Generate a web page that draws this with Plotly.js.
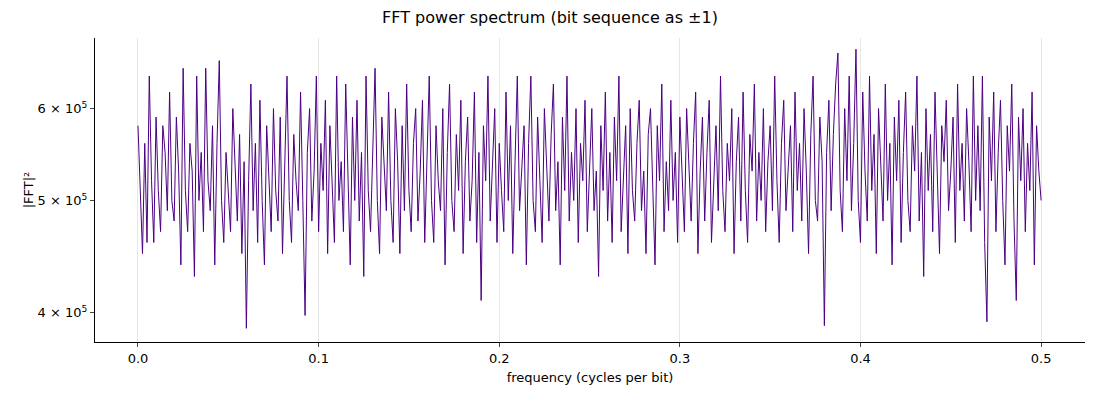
<!DOCTYPE html>
<html>
<head>
<meta charset="utf-8">
<script src="https://cdn.plot.ly/plotly-3.0.1.min.js"></script>
<style>body{margin:0;background:#fff}#chart{width:1100px;height:400px}</style>
</head>
<body>
<div id="chart"></div>
<script>
// power values in units of 1e5, one per frequency bin (bins k/800 up to 0.5)
var power = [
5.8,5.0,4.5,5.6,4.6,6.4,5.2,4.6,5.9,5.1,4.7,5.8,5.5,4.9,6.2,5.0,4.8,5.9,5.3,4.4,
6.5,5.1,4.7,5.6,5.3,4.3,6.4,5.0,5.5,4.7,6.5,5.2,4.9,5.8,4.4,5.6,6.6,5.0,4.6,5.5,
5.1,4.7,6.0,5.3,4.8,5.7,4.5,5.4,3.88,5.2,6.3,4.9,5.6,4.6,6.1,5.0,4.4,5.8,5.2,4.7,
6.0,5.1,4.8,5.9,4.5,5.4,6.4,5.0,4.6,5.7,5.2,4.9,6.2,5.0,3.98,5.5,6.0,4.8,5.3,6.4,
4.7,5.6,5.1,6.1,4.5,5.8,5.2,4.6,6.4,5.0,5.4,4.7,6.3,5.2,4.4,5.9,5.0,6.1,4.8,5.5,
4.3,6.4,5.1,4.7,5.7,6.5,5.0,4.5,5.9,5.3,4.9,6.2,5.0,4.6,6.0,5.4,4.5,5.8,4.9,6.3,
5.1,4.7,5.6,6.0,4.8,5.3,6.1,4.6,5.5,6.4,5.0,4.6,5.8,5.2,4.9,6.0,4.4,5.5,6.3,5.0,
4.7,5.7,5.1,6.1,4.5,5.4,5.9,4.8,5.2,6.2,4.6,5.5,4.1,5.8,5.2,6.4,4.8,5.3,6.0,4.6,
5.6,5.1,4.7,6.2,5.0,5.8,4.5,5.4,6.4,4.9,5.3,5.8,4.4,5.6,6.4,5.0,4.7,5.9,5.2,4.6,
6.0,5.3,4.8,5.7,6.3,4.9,5.4,4.4,5.9,5.1,6.4,4.8,5.5,5.0,6.0,4.6,5.6,5.2,6.1,4.7,
5.4,6.0,4.9,5.3,4.3,5.8,5.1,6.2,4.8,5.5,4.6,5.9,5.2,6.4,4.7,5.3,5.8,4.5,6.0,5.1,
4.8,5.6,6.1,4.9,5.3,4.5,5.7,6.0,5.0,4.4,5.8,5.2,6.3,4.7,5.4,4.9,6.1,5.0,5.5,4.6,
5.9,5.2,4.7,6.0,5.4,4.8,5.6,6.2,4.5,5.3,5.9,4.8,5.5,6.1,4.6,5.2,5.8,4.9,6.4,5.1,
4.7,5.6,5.2,6.0,4.5,5.4,5.9,4.8,6.2,5.1,4.6,5.7,5.3,6.3,4.8,5.5,5.0,6.0,4.7,5.4,
5.8,4.9,6.4,5.2,4.6,5.6,6.1,4.9,5.3,5.8,4.7,6.2,5.1,5.6,4.8,6.0,5.3,4.5,5.7,6.4,
5.0,4.8,5.9,5.4,3.9,5.5,6.1,4.9,5.7,6.3,6.7,5.1,4.7,6.0,5.2,6.4,4.9,5.6,6.75,5.0,
4.6,6.2,5.3,4.8,6.4,5.1,5.7,4.5,6.0,5.4,4.8,6.3,5.0,5.6,4.4,5.9,5.2,6.1,4.6,5.5,
6.2,5.0,4.7,5.8,5.3,6.4,4.8,5.5,4.3,6.0,5.1,5.7,4.7,6.2,5.2,4.5,5.8,5.4,6.1,4.9,
5.3,5.9,4.6,6.3,5.1,5.6,4.8,6.0,5.4,4.7,6.4,5.0,5.8,4.9,6.4,4.6,3.93,5.9,5.2,6.2,
4.7,5.5,6.1,5.0,4.4,5.8,5.3,6.3,4.8,4.1,5.9,5.2,6.0,4.7,5.6,5.1,6.2,4.4,5.8,5.3,
5.0
];
var nBins = 800;
var yTicks = [4e5, 5e5, 6e5];
var yTickText = ['4 × 10<sup>5</sup>', '5 × 10<sup>5</sup>', '6 × 10<sup>5</sup>'];
var xTicks = [0, 0.1, 0.2, 0.3, 0.4, 0.5];

var freq = [], y = [];
for (var k = 0; k < power.length; k++) {
    freq.push(k / nBins);
    y.push(power[k] * 1e5);
}

var trace = {
    type: 'scatter',
    mode: 'lines',
    x: freq,
    y: y,
    line: {color: '#4b0082', width: 1},
    showlegend: false
};

var layout = {
    width: 1100, height: 400,
    margin: {l: 95, r: 15, t: 38, b: 58},
    paper_bgcolor: '#fff', plot_bgcolor: '#fff',
    font: {family: 'DejaVu Sans', size: 13, color: '#000'},
    title: {text: 'FFT power spectrum (bit sequence as ±1)', x: 0.5, y: 0.97, font: {size: 16}},
    xaxis: {
        title: {text: 'frequency (cycles per bit)', font: {size: 13}, standoff: 8},
        range: [-0.0238, 0.5243],
        tickvals: xTicks, ticktext: xTicks.map(function (v) { return v.toFixed(1); }),
        tickfont: {size: 13},
        showgrid: true, gridcolor: '#e6e6e6',
        ticks: 'outside', ticklen: 4, showline: true, linecolor: '#000', zeroline: false
    },
    yaxis: {
        title: {text: '|FFT|²', font: {size: 13}},
        type: 'log',
        range: [5.577, 5.839],
        tickvals: yTicks, ticktext: yTickText,
        tickfont: {size: 13},
        showgrid: false,
        ticks: 'outside', ticklen: 4, showline: true, linecolor: '#000', zeroline: false
    }
};

Plotly.newPlot('chart', [trace], layout, {displayModeBar: false});
</script>
</body>
</html>
